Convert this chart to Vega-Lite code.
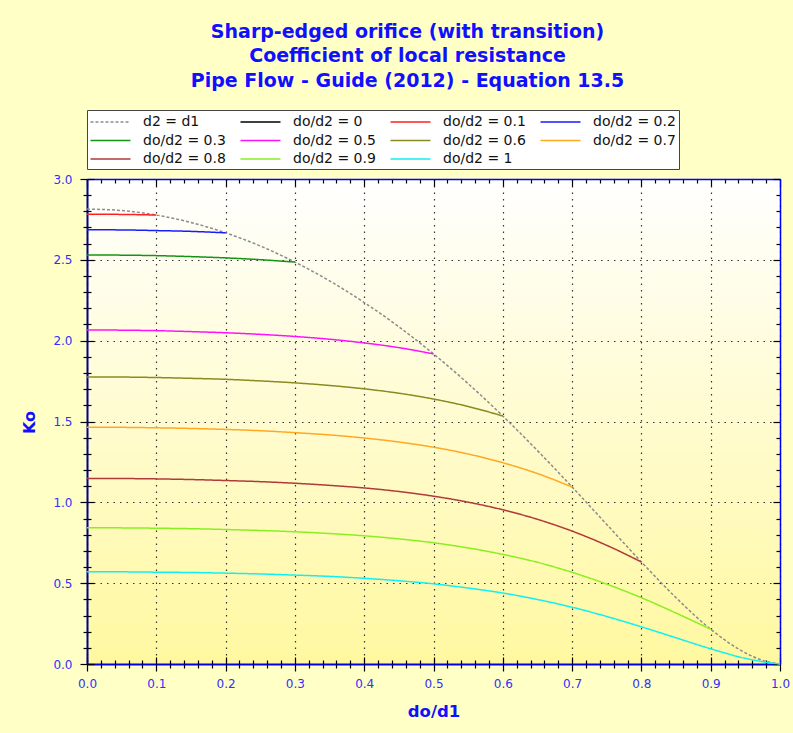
{
  "$schema": "https://vega.github.io/schema/vega-lite/v6.json",
  "width": 693,
  "height": 485,
  "autosize": {"type": "none"},
  "padding": {"left": 87, "top": 179, "right": 13, "bottom": 69},
  "background": "#FFFFC6",
  "config": {
    "font": "DejaVu Sans",
    "view": {"stroke": null, "fill": {"gradient": "linear", "x1": 0, "y1": 0, "x2": 0, "y2": 1, "stops": [{"offset": 0, "color": "#FFFFFF"}, {"offset": 1, "color": "#FFF8A0"}]}}
  },
  "title": {
    "text": ["Sharp-edged orifice (with transition)", "Coefficient of local resistance", "Pipe Flow - Guide (2012) - Equation 13.5"],
    "font": "DejaVu Sans",
    "fontSize": 19,
    "fontWeight": "bold",
    "color": "#1010FF",
    "lineHeight": 24.5,
    "anchor": "middle",
    "frame": "group",
    "dx": -26,
    "offset": 19
  },
  "data": {"values": [
    {"s": "d2 = d1", "x": 0, "y": 2.814}, {"s": "d2 = d1", "x": 0.05, "y": 2.805}, {"s": "d2 = d1", "x": 0.1, "y": 2.777}, {"s": "d2 = d1", "x": 0.15, "y": 2.731}, {"s": "d2 = d1", "x": 0.2, "y": 2.667}, {"s": "d2 = d1", "x": 0.25, "y": 2.586}, {"s": "d2 = d1", "x": 0.3, "y": 2.486}, {"s": "d2 = d1", "x": 0.35, "y": 2.370}, {"s": "d2 = d1", "x": 0.4, "y": 2.236}, {"s": "d2 = d1", "x": 0.45, "y": 2.086}, {"s": "d2 = d1", "x": 0.5, "y": 1.918}, {"s": "d2 = d1", "x": 0.55, "y": 1.734}, {"s": "d2 = d1", "x": 0.6, "y": 1.534}, {"s": "d2 = d1", "x": 0.65, "y": 1.320}, {"s": "d2 = d1", "x": 0.7, "y": 1.095}, {"s": "d2 = d1", "x": 0.75, "y": 0.863}, {"s": "d2 = d1", "x": 0.8, "y": 0.631}, {"s": "d2 = d1", "x": 0.85, "y": 0.410}, {"s": "d2 = d1", "x": 0.9, "y": 0.215}, {"s": "d2 = d1", "x": 0.95, "y": 0.069}, {"s": "d2 = d1", "x": 0.975, "y": 0.022}, {"s": "d2 = d1", "x": 1, "y": 0},
    {"s": "do/d2 = 0", "x": 0, "y": 2.814},
    {"s": "do/d2 = 0.1", "x": 0, "y": 2.782}, {"s": "do/d2 = 0.1", "x": 0.05, "y": 2.781}, {"s": "do/d2 = 0.1", "x": 0.1, "y": 2.777},
    {"s": "do/d2 = 0.2", "x": 0, "y": 2.686}, {"s": "do/d2 = 0.2", "x": 0.05, "y": 2.685}, {"s": "do/d2 = 0.2", "x": 0.1, "y": 2.681}, {"s": "do/d2 = 0.2", "x": 0.15, "y": 2.676}, {"s": "do/d2 = 0.2", "x": 0.2, "y": 2.667},
    {"s": "do/d2 = 0.3", "x": 0, "y": 2.530}, {"s": "do/d2 = 0.3", "x": 0.05, "y": 2.529}, {"s": "do/d2 = 0.3", "x": 0.1, "y": 2.526}, {"s": "do/d2 = 0.3", "x": 0.15, "y": 2.520}, {"s": "do/d2 = 0.3", "x": 0.2, "y": 2.512}, {"s": "do/d2 = 0.3", "x": 0.25, "y": 2.501}, {"s": "do/d2 = 0.3", "x": 0.3, "y": 2.486},
    {"s": "do/d2 = 0.5", "x": 0, "y": 2.066}, {"s": "do/d2 = 0.5", "x": 0.05, "y": 2.065}, {"s": "do/d2 = 0.5", "x": 0.1, "y": 2.062}, {"s": "do/d2 = 0.5", "x": 0.15, "y": 2.056}, {"s": "do/d2 = 0.5", "x": 0.2, "y": 2.049}, {"s": "do/d2 = 0.5", "x": 0.25, "y": 2.039}, {"s": "do/d2 = 0.5", "x": 0.3, "y": 2.026}, {"s": "do/d2 = 0.5", "x": 0.35, "y": 2.009}, {"s": "do/d2 = 0.5", "x": 0.4, "y": 1.986}, {"s": "do/d2 = 0.5", "x": 0.45, "y": 1.957}, {"s": "do/d2 = 0.5", "x": 0.5, "y": 1.918},
    {"s": "do/d2 = 0.6", "x": 0, "y": 1.776}, {"s": "do/d2 = 0.6", "x": 0.05, "y": 1.775}, {"s": "do/d2 = 0.6", "x": 0.1, "y": 1.772}, {"s": "do/d2 = 0.6", "x": 0.15, "y": 1.767}, {"s": "do/d2 = 0.6", "x": 0.2, "y": 1.761}, {"s": "do/d2 = 0.6", "x": 0.25, "y": 1.751}, {"s": "do/d2 = 0.6", "x": 0.3, "y": 1.739}, {"s": "do/d2 = 0.6", "x": 0.35, "y": 1.723}, {"s": "do/d2 = 0.6", "x": 0.4, "y": 1.702}, {"s": "do/d2 = 0.6", "x": 0.45, "y": 1.675}, {"s": "do/d2 = 0.6", "x": 0.5, "y": 1.639}, {"s": "do/d2 = 0.6", "x": 0.55, "y": 1.593}, {"s": "do/d2 = 0.6", "x": 0.6, "y": 1.534},
    {"s": "do/d2 = 0.7", "x": 0, "y": 1.465}, {"s": "do/d2 = 0.7", "x": 0.05, "y": 1.464}, {"s": "do/d2 = 0.7", "x": 0.1, "y": 1.461}, {"s": "do/d2 = 0.7", "x": 0.15, "y": 1.457}, {"s": "do/d2 = 0.7", "x": 0.2, "y": 1.451}, {"s": "do/d2 = 0.7", "x": 0.25, "y": 1.443}, {"s": "do/d2 = 0.7", "x": 0.3, "y": 1.431}, {"s": "do/d2 = 0.7", "x": 0.35, "y": 1.417}, {"s": "do/d2 = 0.7", "x": 0.4, "y": 1.398}, {"s": "do/d2 = 0.7", "x": 0.45, "y": 1.373}, {"s": "do/d2 = 0.7", "x": 0.5, "y": 1.341}, {"s": "do/d2 = 0.7", "x": 0.55, "y": 1.299}, {"s": "do/d2 = 0.7", "x": 0.6, "y": 1.245}, {"s": "do/d2 = 0.7", "x": 0.65, "y": 1.178}, {"s": "do/d2 = 0.7", "x": 0.7, "y": 1.095},
    {"s": "do/d2 = 0.8", "x": 0, "y": 1.147}, {"s": "do/d2 = 0.8", "x": 0.05, "y": 1.147}, {"s": "do/d2 = 0.8", "x": 0.1, "y": 1.145}, {"s": "do/d2 = 0.8", "x": 0.15, "y": 1.141}, {"s": "do/d2 = 0.8", "x": 0.2, "y": 1.135}, {"s": "do/d2 = 0.8", "x": 0.25, "y": 1.128}, {"s": "do/d2 = 0.8", "x": 0.3, "y": 1.118}, {"s": "do/d2 = 0.8", "x": 0.35, "y": 1.105}, {"s": "do/d2 = 0.8", "x": 0.4, "y": 1.089}, {"s": "do/d2 = 0.8", "x": 0.45, "y": 1.067}, {"s": "do/d2 = 0.8", "x": 0.5, "y": 1.038}, {"s": "do/d2 = 0.8", "x": 0.55, "y": 1.001}, {"s": "do/d2 = 0.8", "x": 0.6, "y": 0.954}, {"s": "do/d2 = 0.8", "x": 0.65, "y": 0.895}, {"s": "do/d2 = 0.8", "x": 0.7, "y": 0.822}, {"s": "do/d2 = 0.8", "x": 0.75, "y": 0.734}, {"s": "do/d2 = 0.8", "x": 0.8, "y": 0.631},
    {"s": "do/d2 = 0.9", "x": 0, "y": 0.843}, {"s": "do/d2 = 0.9", "x": 0.05, "y": 0.842}, {"s": "do/d2 = 0.9", "x": 0.1, "y": 0.840}, {"s": "do/d2 = 0.9", "x": 0.15, "y": 0.837}, {"s": "do/d2 = 0.9", "x": 0.2, "y": 0.832}, {"s": "do/d2 = 0.9", "x": 0.25, "y": 0.826}, {"s": "do/d2 = 0.9", "x": 0.3, "y": 0.818}, {"s": "do/d2 = 0.9", "x": 0.35, "y": 0.807}, {"s": "do/d2 = 0.9", "x": 0.4, "y": 0.793}, {"s": "do/d2 = 0.9", "x": 0.45, "y": 0.774}, {"s": "do/d2 = 0.9", "x": 0.5, "y": 0.750}, {"s": "do/d2 = 0.9", "x": 0.55, "y": 0.718}, {"s": "do/d2 = 0.9", "x": 0.6, "y": 0.678}, {"s": "do/d2 = 0.9", "x": 0.65, "y": 0.629}, {"s": "do/d2 = 0.9", "x": 0.7, "y": 0.567}, {"s": "do/d2 = 0.9", "x": 0.75, "y": 0.494}, {"s": "do/d2 = 0.9", "x": 0.8, "y": 0.410}, {"s": "do/d2 = 0.9", "x": 0.85, "y": 0.315}, {"s": "do/d2 = 0.9", "x": 0.9, "y": 0.215},
    {"s": "do/d2 = 1", "x": 0, "y": 0.570}, {"s": "do/d2 = 1", "x": 0.05, "y": 0.570}, {"s": "do/d2 = 1", "x": 0.1, "y": 0.568}, {"s": "do/d2 = 1", "x": 0.15, "y": 0.566}, {"s": "do/d2 = 1", "x": 0.2, "y": 0.562}, {"s": "do/d2 = 1", "x": 0.25, "y": 0.557}, {"s": "do/d2 = 1", "x": 0.3, "y": 0.550}, {"s": "do/d2 = 1", "x": 0.35, "y": 0.542}, {"s": "do/d2 = 1", "x": 0.4, "y": 0.530}, {"s": "do/d2 = 1", "x": 0.45, "y": 0.515}, {"s": "do/d2 = 1", "x": 0.5, "y": 0.496}, {"s": "do/d2 = 1", "x": 0.55, "y": 0.470}, {"s": "do/d2 = 1", "x": 0.6, "y": 0.439}, {"s": "do/d2 = 1", "x": 0.65, "y": 0.399}, {"s": "do/d2 = 1", "x": 0.7, "y": 0.351}, {"s": "do/d2 = 1", "x": 0.75, "y": 0.294}, {"s": "do/d2 = 1", "x": 0.8, "y": 0.230}, {"s": "do/d2 = 1", "x": 0.85, "y": 0.162}, {"s": "do/d2 = 1", "x": 0.9, "y": 0.094}, {"s": "do/d2 = 1", "x": 0.95, "y": 0.035}, {"s": "do/d2 = 1", "x": 0.975, "y": 0.014}, {"s": "do/d2 = 1", "x": 1, "y": 0}
  ]},
  "resolve": {"axis": {"x": "independent", "y": "independent"}},
  "layer": [
    {
      "mark": {"type": "line", "interpolate": "monotone", "strokeWidth": 1.5},
      "encoding": {
        "x": {
          "field": "x", "type": "quantitative",
          "scale": {"domain": [0, 1], "nice": false, "zero": false},
          "axis": {
            "orient": "bottom",
            "values": [0, 0.02, 0.04, 0.06, 0.08, 0.1, 0.12, 0.14, 0.16, 0.18, 0.2, 0.22, 0.24, 0.26, 0.28, 0.3, 0.32, 0.34, 0.36, 0.38, 0.4, 0.42, 0.44, 0.46, 0.48, 0.5, 0.52, 0.54, 0.56, 0.58, 0.6, 0.62, 0.64, 0.66, 0.68, 0.7, 0.72, 0.74, 0.76, 0.78, 0.8, 0.82, 0.84, 0.86, 0.88, 0.9, 0.92, 0.94, 0.96, 0.98, 1],
            "labelExpr": "abs(datum.value*10 - round(datum.value*10)) < 0.001 ? format(datum.value, '.1f') : ''",
            "labelFont": "DejaVu Sans", "labelFontSize": 12, "labelColor": "#3030FF", "labelPadding": 7, "labelFlush": false, "labelOverlap": false,
            "domainColor": "#0000E0", "domainWidth": 2,
            "tickColor": "#000000", "tickWidth": 1.2,
            "tickSize": {"condition": {"test": "abs(datum.value*10 - round(datum.value*10)) < 0.001", "value": 7}, "value": 4},
            "grid": true, "gridColor": "#333333", "gridDash": [1.5, 5], "gridWidth": 1.2,
            "gridOpacity": {"condition": {"test": "abs(datum.value*10 - round(datum.value*10)) < 0.001", "value": 1}, "value": 0},
            "title": "do/d1", "titleFont": "DejaVu Sans", "titleFontSize": 16.5, "titleFontWeight": "bold", "titleColor": "#1010FF",
            "titleBaseline": "middle", "titleY": 47
          }
        },
        "y": {
          "field": "y", "type": "quantitative",
          "scale": {"domain": [0, 3], "nice": false},
          "axis": {
            "orient": "left",
            "values": [0, 0.1, 0.2, 0.3, 0.4, 0.5, 0.6, 0.7, 0.8, 0.9, 1, 1.1, 1.2, 1.3, 1.4, 1.5, 1.6, 1.7, 1.8, 1.9, 2, 2.1, 2.2, 2.3, 2.4, 2.5, 2.6, 2.7, 2.8, 2.9, 3],
            "labelExpr": "abs(datum.value*2 - round(datum.value*2)) < 0.001 ? format(datum.value, '.1f') : ''",
            "labelFont": "DejaVu Sans", "labelFontSize": 12, "labelColor": "#3030FF", "labelPadding": 8, "labelFlush": false, "labelOverlap": false,
            "domainColor": "#00008B", "domainWidth": 2,
            "tickColor": "#000000", "tickWidth": 1.2,
            "tickSize": {"condition": {"test": "abs(datum.value*2 - round(datum.value*2)) < 0.001", "value": 7}, "value": 4},
            "grid": true, "gridColor": "#333333", "gridDash": [1.5, 5], "gridWidth": 1.2,
            "gridOpacity": {"condition": {"test": "abs(datum.value*2 - round(datum.value*2)) < 0.001", "value": 1}, "value": 0},
            "title": "Ko", "titleFont": "DejaVu Sans", "titleFontSize": 16, "titleFontWeight": "bold", "titleColor": "#1010FF",
            "titleAngle": -90, "titleAlign": "center", "titleBaseline": "middle", "titleX": -58, "titleY": 243
          }
        },
        "color": {
          "field": "s", "type": "nominal",
          "scale": {
            "domain": ["d2 = d1", "do/d2 = 0", "do/d2 = 0.1", "do/d2 = 0.2", "do/d2 = 0.3", "do/d2 = 0.5", "do/d2 = 0.6", "do/d2 = 0.7", "do/d2 = 0.8", "do/d2 = 0.9", "do/d2 = 1"],
            "range": ["#8C8C8C", "#000000", "#FF2020", "#1A1AFF", "#149414", "#FF10FF", "#8A8A20", "#FFA820", "#B03A3A", "#88F020", "#10F0F0"]
          },
          "legend": {
            "orient": "none", "legendX": 0, "legendY": -69, "columns": 4, "direction": "horizontal", "title": null,
            "symbolType": "M-2.5,0H2.5", "symbolSize": 256, "symbolStrokeWidth": 1.5, "symbolOffset": 11.5,
            "labelFont": "DejaVu Sans", "labelFontSize": 14, "labelColor": "#111111", "labelOffset": 23.5, "labelLimit": 250,
            "labelExpr": "(datum.index == 3 || datum.index == 7) ? datum.label + '\u2003\u2003' : datum.label",
            "columnPadding": 11, "rowPadding": 2.5, "padding": 3,
            "fillColor": "#FFFFFF", "strokeColor": "#444444"
          }
        },
        "strokeDash": {
          "field": "s", "type": "nominal",
          "scale": {
            "domain": ["d2 = d1", "do/d2 = 0", "do/d2 = 0.1", "do/d2 = 0.2", "do/d2 = 0.3", "do/d2 = 0.5", "do/d2 = 0.6", "do/d2 = 0.7", "do/d2 = 0.8", "do/d2 = 0.9", "do/d2 = 1"],
            "range": [[3, 2], [1, 0], [1, 0], [1, 0], [1, 0], [1, 0], [1, 0], [1, 0], [1, 0], [1, 0], [1, 0]]
          },
          "legend": {
            "orient": "none", "legendX": 0, "legendY": -69, "columns": 4, "direction": "horizontal", "title": null,
            "symbolType": "M-2.5,0H2.5", "symbolSize": 256, "symbolStrokeWidth": 1.5, "symbolOffset": 11.5,
            "labelFont": "DejaVu Sans", "labelFontSize": 14, "labelColor": "#111111", "labelOffset": 23.5, "labelLimit": 250,
            "labelExpr": "(datum.index == 3 || datum.index == 7) ? datum.label + '\u2003\u2003' : datum.label",
            "columnPadding": 11, "rowPadding": 2.5, "padding": 3,
            "fillColor": "#FFFFFF", "strokeColor": "#444444"
          }
        }
      }
    },
    {
      "mark": {"type": "point", "opacity": 0},
      "encoding": {
        "x": {
          "field": "x", "type": "quantitative",
          "axis": {
            "orient": "top", "labels": false, "grid": false, "title": null,
            "values": [0, 0.02, 0.04, 0.06, 0.08, 0.1, 0.12, 0.14, 0.16, 0.18, 0.2, 0.22, 0.24, 0.26, 0.28, 0.3, 0.32, 0.34, 0.36, 0.38, 0.4, 0.42, 0.44, 0.46, 0.48, 0.5, 0.52, 0.54, 0.56, 0.58, 0.6, 0.62, 0.64, 0.66, 0.68, 0.7, 0.72, 0.74, 0.76, 0.78, 0.8, 0.82, 0.84, 0.86, 0.88, 0.9, 0.92, 0.94, 0.96, 0.98, 1],
            "domainColor": "#0000FF", "domainWidth": 1.5, "tickColor": "#000000", "tickWidth": 1.2,
            "tickSize": {"condition": {"test": "abs(datum.value*10 - round(datum.value*10)) < 0.001", "value": -7}, "value": -4}
          }
        },
        "y": {
          "field": "y", "type": "quantitative",
          "axis": {
            "orient": "right", "labels": false, "grid": false, "title": null,
            "values": [0, 0.1, 0.2, 0.3, 0.4, 0.5, 0.6, 0.7, 0.8, 0.9, 1, 1.1, 1.2, 1.3, 1.4, 1.5, 1.6, 1.7, 1.8, 1.9, 2, 2.1, 2.2, 2.3, 2.4, 2.5, 2.6, 2.7, 2.8, 2.9, 3],
            "domainColor": "#0000FF", "domainWidth": 1.5, "tickColor": "#000000", "tickWidth": 1.2,
            "tickSize": {"condition": {"test": "abs(datum.value*2 - round(datum.value*2)) < 0.001", "value": -7}, "value": -4}
          }
        }
      }
    },
    {
      "mark": {"type": "point", "opacity": 0},
      "encoding": {
        "x": {
          "field": "x", "type": "quantitative",
          "axis": {
            "orient": "bottom", "labels": false, "grid": false, "title": null, "domain": false,
            "values": [0, 0.02, 0.04, 0.06, 0.08, 0.1, 0.12, 0.14, 0.16, 0.18, 0.2, 0.22, 0.24, 0.26, 0.28, 0.3, 0.32, 0.34, 0.36, 0.38, 0.4, 0.42, 0.44, 0.46, 0.48, 0.5, 0.52, 0.54, 0.56, 0.58, 0.6, 0.62, 0.64, 0.66, 0.68, 0.7, 0.72, 0.74, 0.76, 0.78, 0.8, 0.82, 0.84, 0.86, 0.88, 0.9, 0.92, 0.94, 0.96, 0.98, 1],
            "tickColor": "#000000", "tickWidth": 1.2,
            "tickSize": {"condition": {"test": "abs(datum.value*10 - round(datum.value*10)) < 0.001", "value": -7}, "value": -4}
          }
        },
        "y": {
          "field": "y", "type": "quantitative",
          "axis": {
            "orient": "left", "labels": false, "grid": false, "title": null, "domain": false,
            "values": [0, 0.1, 0.2, 0.3, 0.4, 0.5, 0.6, 0.7, 0.8, 0.9, 1, 1.1, 1.2, 1.3, 1.4, 1.5, 1.6, 1.7, 1.8, 1.9, 2, 2.1, 2.2, 2.3, 2.4, 2.5, 2.6, 2.7, 2.8, 2.9, 3],
            "tickColor": "#000000", "tickWidth": 1.2,
            "tickSize": {"condition": {"test": "abs(datum.value*2 - round(datum.value*2)) < 0.001", "value": -7}, "value": -4}
          }
        }
      }
    }
  ]
}
